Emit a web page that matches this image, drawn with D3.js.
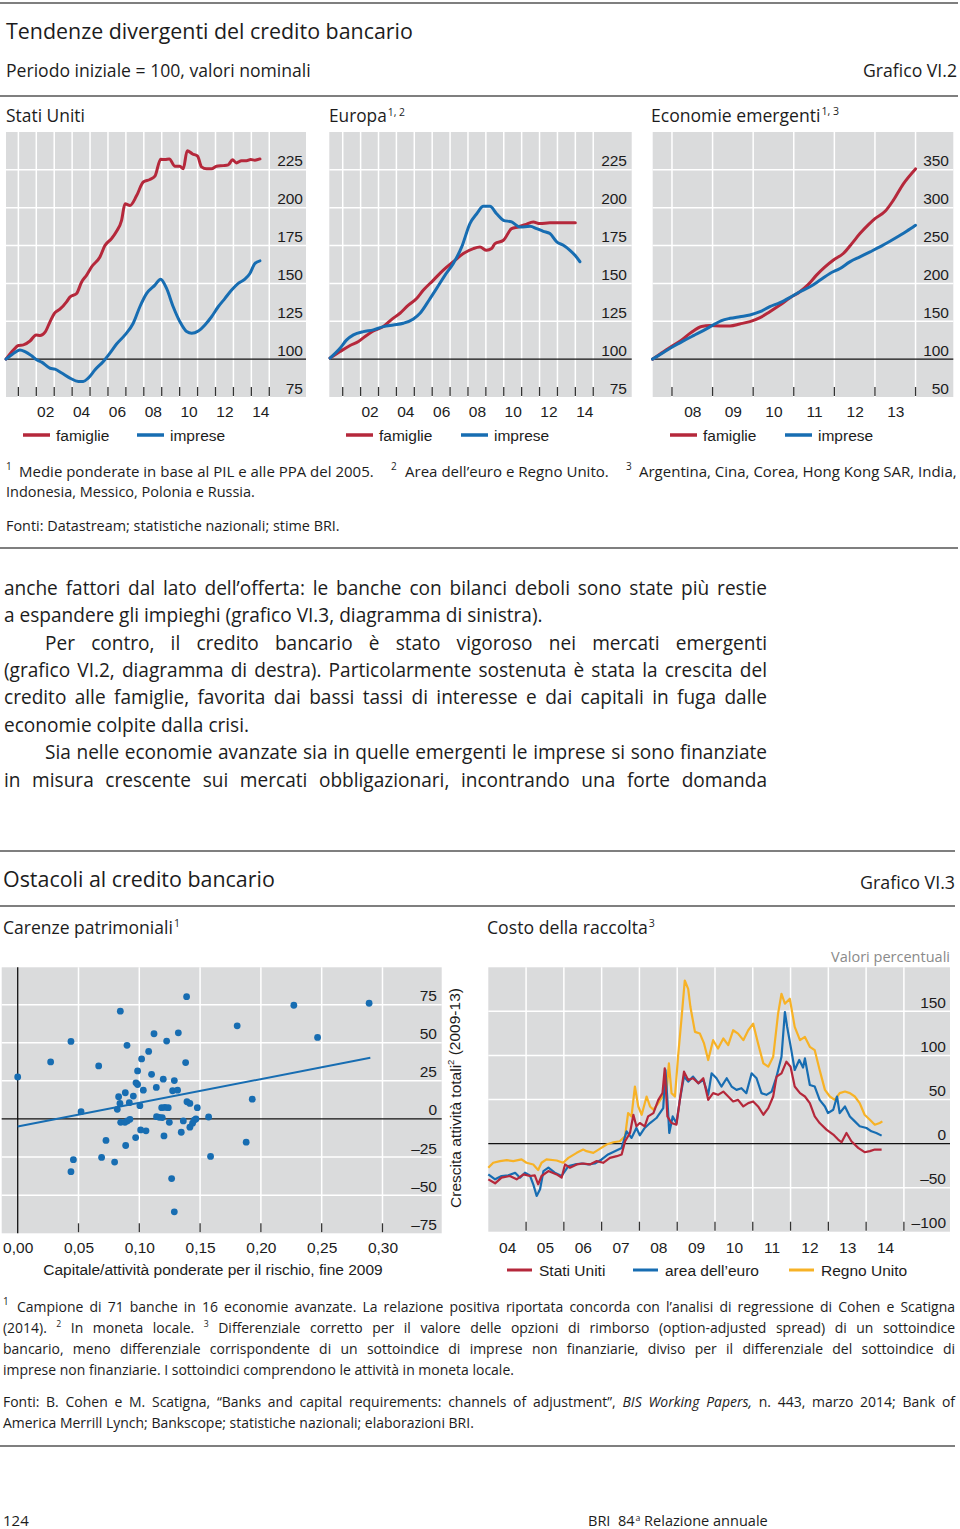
<!DOCTYPE html>
<html><head><meta charset="utf-8">
<script src="https://cdn.jsdelivr.net/npm/d3@7"></script>
<style>body{margin:0;background:#fff}svg{display:block}</style>
</head><body>
<svg id="c" width="960" height="1529"></svg>
<script>
// ---------------- DATA ----------------
const usFamiglie = [[2000.31,100],[2000.72,106],[2001.0,109],[2001.28,109.4],[2001.65,112],[2001.99,116],[2002.21,115.6],[2002.49,117.8],[2002.77,124.8],[2003.01,130.3],[2003.32,133],[2003.70,138],[2003.88,141],[2004.25,143.4],[2004.53,151],[2004.81,155.5],[2005.09,161],[2005.55,167.5],[2005.83,175],[2006.20,179.6],[2006.48,184.4],[2006.76,191.7],[2006.95,202.6],[2007.23,201.5],[2007.60,208],[2007.97,217],[2008.34,218.6],[2008.62,220.8],[2008.94,232],[2009.18,231.8],[2009.42,232.2],[2009.74,227.4],[2010.01,227.4],[2010.20,225.7],[2010.42,237.7],[2010.72,235.5],[2011.0,234],[2011.22,227],[2011.50,225.7],[2011.78,225.7],[2012.06,227.4],[2012.43,227.8],[2012.71,228.3],[2012.95,231.6],[2013.17,229.6],[2013.45,231],[2013.73,231],[2013.96,231.8],[2014.20,231.4],[2014.48,232.2]];
const usImprese = [[2000.31,100],[2000.63,102.9],[2001.09,106.1],[2001.37,105],[2001.74,102.2],[2002.02,99.6],[2002.30,98],[2002.77,94],[2003.04,93.4],[2003.42,90.8],[2003.88,87.5],[2004.35,85.3],[2004.62,85.3],[2004.90,87.5],[2005.28,93],[2005.74,98.5],[2006.11,104],[2006.48,110],[2006.95,116],[2007.41,123.7],[2007.78,134.6],[2008.16,143.4],[2008.62,148.9],[2008.94,152.8],[2009.27,146.7],[2009.64,134.6],[2010.01,124.8],[2010.39,118.2],[2010.67,117.1],[2011.04,118.6],[2011.41,122.6],[2011.78,128],[2012.15,134.6],[2012.52,140],[2012.90,145.6],[2013.27,150],[2013.64,152.8],[2013.92,156.6],[2014.20,163.2],[2014.48,164.9]];
const euFamiglie = [[2000.29,100.7],[2000.85,105],[2001.41,109],[2001.88,111.6],[2002.25,115],[2002.71,118.6],[2003.27,121.5],[2003.74,126.3],[2004.20,130.3],[2004.67,135.7],[2005.13,140],[2005.51,145.6],[2006.07,152.2],[2006.62,158.8],[2007.18,164.3],[2007.74,169.7],[2008.30,173],[2008.67,174],[2009.04,171.9],[2009.32,173],[2009.51,176.3],[2009.98,178.5],[2010.44,186.2],[2010.81,187.3],[2011.19,188.8],[2011.65,190.6],[2012.02,189.5],[2012.58,190.1],[2013.14,190.1],[2014.0,190.1]];
const euImprese = [[2000.29,100.7],[2000.85,107.2],[2001.22,112.7],[2001.60,116],[2002.15,118.2],[2002.71,119.3],[2003.27,121.5],[2003.83,122.6],[2004.39,123.7],[2004.95,126.5],[2005.32,130.3],[2005.88,140],[2006.25,146.7],[2006.72,155.5],[2007.18,163.2],[2007.65,174.1],[2008.11,189.5],[2008.49,196],[2008.86,200.9],[2009.23,200.9],[2009.60,196],[2009.98,191.7],[2010.44,190.6],[2010.91,187.3],[2011.47,187.7],[2011.84,186.2],[2012.21,184.4],[2012.58,182.9],[2012.96,177.4],[2013.33,175.2],[2013.70,171.9],[2013.98,168.6],[2014.26,164.3]];
const emFamiglie = [[2007.52,100],[2007.70,106.6],[2007.95,115.4],[2008.24,125.4],[2008.48,135.5],[2008.73,143],[2008.94,144.3],[2009.18,143.9],[2009.43,143.9],[2009.67,146.5],[2009.92,149.6],[2010.17,154.8],[2010.41,162.7],[2010.66,171.5],[2010.91,181.1],[2011.15,189],[2011.36,198.7],[2011.56,211],[2011.77,221.9],[2011.97,230.7],[2012.22,239.5],[2012.43,252.6],[2012.63,265.8],[2012.84,277.6],[2013.00,285.5],[2013.25,295.2],[2013.45,309.6],[2013.70,331.6],[2014.0,351.3]];
const emImprese = [[2007.52,100],[2007.79,108.8],[2008.03,116.7],[2008.28,124.1],[2008.53,131.1],[2008.77,137.7],[2009.02,145.2],[2009.22,150.9],[2009.43,153.9],[2009.67,156.1],[2009.92,158.3],[2010.17,162.7],[2010.41,169.3],[2010.66,174.6],[2010.91,181.6],[2011.15,189],[2011.40,195.6],[2011.65,204.4],[2011.89,213.2],[2012.14,219.7],[2012.38,228.5],[2012.63,235.1],[2012.88,241.7],[2013.12,248.2],[2013.37,255.7],[2013.62,263.6],[2013.78,268.9],[2014.0,276.8]];

const topYTicks = [75,100,125,150,175,200,225];
const emYTicks = [50,100,150,200,250,300,350];
const topXLabels = ["02","04","06","08","10","12","14"];
const emXLabels = ["08","09","10","11","12","13"];

const scatterCapital = [0.0,0.0271,0.0438,0.0521,0.0438,0.0458,0.0666,0.069,0.0726,0.0797,0.0844,0.0899,0.0885,0.083,0.0841,0.0819,0.0918,0.0951,0.0847,0.0882,0.0901,0.0923,0.0888,0.097,0.0973,0.0986,0.0986,0.1019,0.1033,0.1005,0.1011,0.1055,0.1077,0.1101,0.1121,0.114,0.1142,0.1164,0.1189,0.1197,0.1184,0.1211,0.1238,0.1225,0.1203,0.1247,0.1266,0.1288,0.1274,0.1315,0.1321,0.1288,0.1345,0.1362,0.1389,0.1381,0.1392,0.1416,0.1416,0.1438,0.1466,0.1477,0.157,0.1586,0.1805,0.1879,0.1929,0.2271,0.2466,0.289,0.1452];
const scatterGrowth = [27.6,37.4,50.9,4.8,-34.6,-26.7,34.8,-25.2,-14.1,-28.3,70.7,48.3,17.2,14.6,10.2,6.3,10.7,15,-2.2,-2.2,-1.3,-0.2,-17.4,-12.2,23.7,22.6,31.5,39.4,18.9,8.7,-7.2,-7.8,44.3,29.3,55.9,20.7,1.5,1.1,0.9,26.1,7.4,7.6,7.4,51.1,-11.1,-2.2,-39.1,25.2,18.5,18.9,56.5,-60.9,-8.7,-1.3,80.2,37,11.3,10.2,-5.4,-2.8,0,7.4,1.3,-24.6,61.1,-15.2,13,74.6,53.5,75.9,-0.7];
const regressionLine = [[0.0,-5.0],[0.29,40.2]];
const scatterXTicks = [0.00,0.05,0.10,0.15,0.20,0.25,0.30];
const scatterXLabels = ["0,00","0,05","0,10","0,15","0,20","0,25","0,30"];
const scatterYTicks = [-75,-50,-25,0,25,50,75];

const costUS = [[2004.00,-40.6],[2004.18,-45.1],[2004.35,-38.7],[2004.57,-36.8],[2004.75,-40.6],[2004.93,-35],[2005.10,-36.8],[2005.23,-36.1],[2005.32,-46.2],[2005.41,-36.8],[2005.59,-31.2],[2005.81,-35],[2005.94,-38.7],[2006.03,-23.7],[2006.16,-27.4],[2006.34,-23.7],[2006.51,-22.6],[2006.69,-23.7],[2006.87,-19.9],[2007.04,-21.8],[2007.22,-16.2],[2007.40,-14.3],[2007.53,-12.4],[2007.62,2.6],[2007.75,12],[2007.84,32.7],[2007.92,19.6],[2008.01,23.3],[2008.14,19.6],[2008.23,30.8],[2008.37,34.6],[2008.50,49.6],[2008.61,57.2],[2008.67,85.4],[2008.74,30.8],[2008.85,23.3],[2008.98,21.4],[2009.07,49.6],[2009.18,81.6],[2009.29,72.2],[2009.42,74.1],[2009.56,68.4],[2009.69,74.1],[2009.82,49.6],[2009.95,57.2],[2010.08,55.3],[2010.22,59],[2010.35,53.4],[2010.48,47.8],[2010.61,49.6],[2010.75,42.1],[2010.88,45.9],[2011.01,47.8],[2011.14,42.1],[2011.28,32.7],[2011.41,40.2],[2011.54,53.4],[2011.63,76],[2011.76,79.7],[2011.89,92.9],[2012.00,87.2],[2012.11,64.7],[2012.25,57.2],[2012.38,53.4],[2012.51,45.9],[2012.64,30.8],[2012.77,23.3],[2012.95,15.8],[2013.13,10.2],[2013.26,4.5],[2013.35,1.5],[2013.48,12],[2013.61,2.6],[2013.79,-4.9],[2013.96,-9.8],[2014.10,-8.6],[2014.23,-6.8],[2014.41,-6.8]];
const costEA = [[2004.00,-35],[2004.18,-40.6],[2004.35,-36.8],[2004.53,-36.1],[2004.71,-33.1],[2004.84,-38.7],[2004.97,-33.1],[2005.10,-36.1],[2005.19,-46.2],[2005.28,-59.4],[2005.37,-51.9],[2005.46,-31.2],[2005.59,-27.4],[2005.76,-33.1],[2005.94,-36.8],[2006.12,-25.6],[2006.29,-23.7],[2006.47,-22.6],[2006.65,-23.7],[2006.82,-22.6],[2007.00,-18],[2007.17,-12.4],[2007.35,-8.6],[2007.53,-4.9],[2007.66,13.9],[2007.79,6.4],[2007.92,17.7],[2008.01,9.4],[2008.14,17.7],[2008.28,23.3],[2008.45,29],[2008.63,40.2],[2008.69,83.5],[2008.74,49.6],[2008.79,12],[2008.88,30.8],[2008.98,23.3],[2009.07,49.6],[2009.18,76],[2009.29,70.3],[2009.42,76],[2009.56,68.4],[2009.69,72.2],[2009.82,55.3],[2009.91,79.7],[2010.04,74.1],[2010.17,64.7],[2010.31,74.1],[2010.44,64.7],[2010.57,60.9],[2010.70,62.8],[2010.83,57.2],[2010.97,79.7],[2011.10,74.1],[2011.23,57.2],[2011.36,55.3],[2011.50,59],[2011.63,76],[2011.76,98.5],[2011.85,149.3],[2011.91,132.4],[2012.02,106],[2012.11,83.5],[2012.23,94.8],[2012.33,86.3],[2012.38,96.6],[2012.51,66.5],[2012.64,64.7],[2012.77,49.6],[2012.91,42.1],[2012.99,34.6],[2013.13,38.4],[2013.23,53.4],[2013.30,34.6],[2013.44,42.1],[2013.57,30.8],[2013.70,25.2],[2013.83,19.6],[2014.01,17.7],[2014.14,13.9],[2014.27,12],[2014.41,9]];
const costUK = [[2004.00,-27.4],[2004.13,-21.8],[2004.31,-19.9],[2004.49,-18.8],[2004.66,-19.9],[2004.88,-18],[2005.01,-21.8],[2005.19,-23.7],[2005.32,-30],[2005.41,-21.8],[2005.54,-18],[2005.81,-19.2],[2005.98,-21.8],[2006.12,-16.2],[2006.34,-10.5],[2006.51,-6.8],[2006.60,-8.6],[2006.78,-10.5],[2006.95,-6],[2007.13,-1.1],[2007.31,1.5],[2007.48,2.6],[2007.62,8.3],[2007.70,34.6],[2007.79,30.8],[2007.88,64.7],[2007.97,42.1],[2008.06,32.7],[2008.19,53.4],[2008.28,42.1],[2008.37,38.4],[2008.50,45.9],[2008.61,53.4],[2008.72,60.9],[2008.78,91],[2008.85,57.2],[2008.94,53.4],[2009.03,102.3],[2009.11,139.9],[2009.20,185],[2009.29,175.6],[2009.35,154.9],[2009.47,126.7],[2009.60,124.8],[2009.71,113.6],[2009.82,94.8],[2009.95,117.3],[2010.08,107.9],[2010.22,119.2],[2010.35,111.7],[2010.48,128.6],[2010.61,124.8],[2010.75,117.3],[2010.88,128.6],[2011.01,136.1],[2011.14,113.6],[2011.28,91],[2011.41,87.2],[2011.54,98.5],[2011.67,147.4],[2011.76,170],[2011.85,158.7],[2011.98,164.3],[2012.11,132.4],[2012.25,117.3],[2012.38,121],[2012.51,109.8],[2012.64,106],[2012.77,83.5],[2012.91,60.9],[2013.04,53.4],[2013.17,49.6],[2013.30,57.2],[2013.44,59],[2013.57,57.2],[2013.70,53.4],[2013.83,45.9],[2013.96,32.7],[2014.10,27.1],[2014.23,21.4],[2014.36,23.3],[2014.43,25.2]];
const costYTicks = [-100,-50,0,50,100,150];
const costXLabels = ["04","05","06","07","08","09","10","11","12","13","14"];

// ---------------- STYLE ----------------
const F_TEXT = "'Open Sans','Noto Sans',sans-serif";
const F_AXIS = "'Liberation Sans',Arial,sans-serif";
const RED = '#b5283b', BLUE = '#176db2', YEL = '#f7b226', BG = '#dadbdc', INK = '#1c1c1c', RULE = '#555';
const AX_FS = 15.5;
const svg = d3.select('#c');

const dash = v => String(v).replace('-', '\u2013');

function measure(str, fs, ff) {
  const t = svg.append('text').attr('font-family', ff).attr('font-size', fs).text(str);
  const w = t.node().getComputedTextLength(); t.remove(); return w;
}
function fit(t, w) {
  const cur = t.node().getComputedTextLength();
  t.attr('font-size', (+t.attr('font-size')) * w / cur);
  return t;
}
function T(x, y, str, o = {}) {
  const t = svg.append('text').attr('x', x).attr('y', y)
    .attr('font-family', o.ff || F_TEXT).attr('font-size', o.fs || 16)
    .attr('fill', o.fill || INK).attr('text-anchor', o.anchor || 'start');
  t.append('tspan').text(str);
  if (o.sup) t.append('tspan').attr('font-size', '0.6em').attr('dy', '-0.62em').attr('dx', '0.1em').text(o.sup);
  if (o.w) fit(t, o.w);
  return t;
}
function rule(y, x1, x2) {
  svg.append('line').attr('x1', x1).attr('x2', x2).attr('y1', y).attr('y2', y).attr('stroke', RULE).attr('stroke-width', 1.3);
}
// justified line: tokens separated by spaces, '^' prefix = superscript, '~' prefix = italic
function J(x, y, w, str, fs, just = true) {
  const t = svg.append('text').attr('font-family', F_TEXT).attr('font-size', fs).attr('fill', INK);
  const words = str.split(' ');
  const spans = words.map(wd => {
    const s = t.append('tspan');
    if (wd[0] === '^') s.text(wd.slice(1)).attr('font-size', fs * 0.62).attr('y', y - fs * 0.4);
    else if (wd[0] === '~') s.text(wd.slice(1)).attr('font-style', 'italic').attr('y', y);
    else s.text(wd).attr('y', y);
    return s;
  });
  const ws = spans.map(s => s.node().getComputedTextLength());
  const gap = just ? (w - d3.sum(ws)) / (words.length - 1) : fs * 0.26;
  let cx = x;
  spans.forEach((s, i) => { s.attr('x', cx); cx += ws[i] + gap; });
}
function justSize(lines) {
  let fs = Infinity;
  lines.forEach(([str, w]) => { fs = Math.min(fs, 18 * (w * 0.99) / measure(str, 18, F_TEXT)); });
  return fs;
}

// ---------------- TOP FIGURE ----------------
rule(3, 0, 958);
T(6, 39, 'Tendenze divergenti del credito bancario', {fs: 21, w: 407});
T(6, 77, 'Periodo iniziale = 100, valori nominali', {fs: 18, w: 305});
T(957, 77, 'Grafico VI.2', {fs: 18, anchor: 'end', w: 94});
rule(96, 0, 958);
T(6, 122, 'Stati Uniti', {fs: 18, w: 79});
T(329, 122, 'Europa', {fs: 18, sup: '1, 2', w: 75});
T(651, 122, 'Economie emergenti', {fs: 18, sup: '1, 3', w: 187});

function topPanel(p) {
  const g = svg.append('g');
  const x = d3.scaleLinear().domain(p.xd).range([p.x0, p.x1]);
  const y = d3.scaleLinear().domain(p.yd).range([p.y1, p.y0]);
  g.append('rect').attr('x', p.x0).attr('y', p.y0).attr('width', p.x1 - p.x0).attr('height', p.y1 - p.y0).attr('fill', BG);
  g.selectAll(null).data(p.yTicks.filter(v => v !== p.yd[0] && v !== 100)).join('line')
    .attr('x1', p.x0).attr('x2', p.x1).attr('y1', d => y(d)).attr('y2', d => y(d)).attr('stroke', '#fff').attr('stroke-width', 1.5);
  g.selectAll(null).data(p.years).join('line')
    .attr('x1', d => x(d)).attr('x2', d => x(d)).attr('y1', p.y0).attr('y2', p.y1).attr('stroke', '#fff').attr('stroke-width', 1.5);
  g.selectAll(null).data(p.years).join('line')
    .attr('x1', d => x(d)).attr('x2', d => x(d)).attr('y1', p.y1 - 10).attr('y2', p.y1 - 1).attr('stroke', '#333').attr('stroke-width', 1.3);
  g.append('line').attr('x1', p.x0).attr('x2', p.x1).attr('y1', y(100)).attr('y2', y(100)).attr('stroke', '#111').attr('stroke-width', 1.3);
  const line = d3.line().x(d => x(d[0])).y(d => y(d[1])).curve(d3.curveMonotoneX);
  p.series.forEach((s, i) => g.append('path').attr('d', line(s)).attr('fill', 'none')
    .attr('stroke', i === 0 ? RED : BLUE).attr('stroke-width', 3).attr('stroke-linejoin', 'round').attr('stroke-linecap', 'round'));
  const ay = g.append('g').attr('transform', `translate(${p.labelX},0)`)
    .call(d3.axisRight(y).tickValues(p.yTicks).tickSize(0).tickFormat(dash));
  ay.select('.domain').remove();
  ay.attr('font-family', F_AXIS).attr('font-size', AX_FS);
  ay.selectAll('text').attr('x', 0).attr('dy', null).attr('y', -4).attr('text-anchor', 'end').attr('fill', INK);
  const lx = p.xLabels.map(l => 2000 + (+l) + 0.5);
  const ax = g.append('g').attr('transform', `translate(0,${p.y1 + 19.5})`)
    .call(d3.axisBottom(x).tickValues(lx).tickSize(0).tickFormat((d, i) => p.xLabels[i]));
  ax.select('.domain').remove();
  ax.attr('font-family', F_AXIS).attr('font-size', AX_FS);
  ax.selectAll('text').attr('y', 0).attr('dy', null).attr('fill', INK);
  const ly = 435;
  [[p.leg[0], RED, 'famiglie'], [p.leg[1], BLUE, 'imprese']].forEach(([lx0, c, lab]) => {
    g.append('line').attr('x1', lx0).attr('x2', lx0 + 27).attr('y1', ly).attr('y2', ly).attr('stroke', c).attr('stroke-width', 3.5);
    g.append('text').attr('x', lx0 + 33).attr('y', ly + 5.5).attr('font-family', F_AXIS).attr('font-size', AX_FS).attr('fill', INK).text(lab);
  });
}
topPanel({x0: 6, x1: 306, y0: 132, y1: 397, xd: [2000.31, 2017.05], yd: [75, 250], yTicks: topYTicks,
  years: d3.range(2001, 2016), xLabels: topXLabels, series: [usFamiglie, usImprese], labelX: 303, leg: [23, 137]});
topPanel({x0: 329.3, x1: 631.7, y0: 132, y1: 397, xd: [2000.25, 2017.15], yd: [75, 250], yTicks: topYTicks,
  years: d3.range(2001, 2016), xLabels: topXLabels, series: [euFamiglie, euImprese], labelX: 627, leg: [346, 461]});
topPanel({x0: 652.7, x1: 953.3, y0: 132, y1: 397, xd: [2007.525, 2014.93], yd: [50, 400], yTicks: emYTicks,
  years: d3.range(2008, 2015), xLabels: emXLabels, series: [emFamiglie, emImprese], labelX: 949, leg: [670, 785]});

// top footnotes
const supFs = 10;
function supAt(x, y, s) { svg.append('text').attr('x', x).attr('y', y).attr('font-family', F_TEXT).attr('font-size', supFs).attr('fill', INK).text(s); }
supAt(6, 470, '1'); T(19, 477, 'Medie ponderate in base al PIL e alle PPA del 2005.', {fs: 14, w: 355});
supAt(391, 470, '2'); T(405, 477, 'Area dell\u2019euro e Regno Unito.', {fs: 14, w: 204});
supAt(626, 470, '3'); T(639, 477, 'Argentina, Cina, Corea, Hong Kong SAR, India,', {fs: 14, w: 318});
T(6, 497, 'Indonesia, Messico, Polonia e Russia.', {fs: 14, w: 249});
T(6, 531, 'Fonti: Datastream; statistiche nazionali; stime BRI.', {fs: 14, w: 334});
rule(548, 0, 958);

// ---------------- BODY TEXT ----------------
const bodyLines = [
  [4, 595, 763, 'anche fattori dal lato dell\u2019offerta: le banche con bilanci deboli sono state pi\u00f9 restie', true],
  [4, 622, 763, 'a espandere gli impieghi (grafico VI.3, diagramma di sinistra).', false],
  [45, 650, 722, 'Per contro, il credito bancario \u00e8 stato vigoroso nei mercati emergenti', true],
  [4, 677, 763, '(grafico VI.2, diagramma di destra). Particolarmente sostenuta \u00e8 stata la crescita del', true],
  [4, 704, 763, 'credito alle famiglie, favorita dai bassi tassi di interesse e dai capitali in fuga dalle', true],
  [4, 732, 763, 'economie colpite dalla crisi.', false],
  [45, 759, 722, 'Sia nelle economie avanzate sia in quelle emergenti le imprese si sono finanziate', true],
  [4, 787, 763, 'in misura crescente sui mercati obbligazionari, incontrando una forte domanda', true]
];
const bodyFs = Math.min(18 * 562 / measure(bodyLines[1][3], 18, F_TEXT),
  justSize(bodyLines.filter(l => l[4]).map(l => [l[3], l[2]])));
bodyLines.forEach(([x, y, w, s, j]) => J(x, y, w, s, bodyFs, j));

// ---------------- BOTTOM FIGURE ----------------
rule(851, 0, 955);
T(3, 887, 'Ostacoli al credito bancario', {fs: 22, w: 272});
T(955, 889, 'Grafico VI.3', {fs: 18, anchor: 'end', w: 95});
rule(906, 0, 955);
T(3, 934, 'Carenze patrimoniali', {fs: 18, sup: '1', w: 176});
T(487, 934, 'Costo della raccolta', {fs: 18, sup: '3', w: 167});
T(950, 962, 'Valori percentuali', {fs: 15, anchor: 'end', w: 119, fill: '#8a8a8a'});

// scatter
(function () {
  const X0 = 1.7, X1 = 441.7, Y0 = 967.3, Y1 = 1233.3;
  const x = d3.scaleLinear().domain([-0.01316, 0.3487]).range([X0, X1]);
  const y = d3.scaleLinear().domain([-75, 99.5]).range([Y1, Y0]);
  const g = svg.append('g');
  g.append('rect').attr('x', X0).attr('y', Y0).attr('width', X1 - X0).attr('height', Y1 - Y0).attr('fill', BG);
  const vt = scatterXTicks.filter(v => v > 0);
  g.selectAll(null).data(vt).join('line').attr('x1', d => x(d)).attr('x2', d => x(d)).attr('y1', Y0).attr('y2', Y1).attr('stroke', '#fff').attr('stroke-width', 1.5);
  g.selectAll(null).data(scatterYTicks.filter(v => v !== 0 && v !== -75)).join('line').attr('x1', X0).attr('x2', X1).attr('y1', d => y(d)).attr('y2', d => y(d)).attr('stroke', '#fff').attr('stroke-width', 1.5);
  g.selectAll(null).data(vt).join('line').attr('x1', d => x(d)).attr('x2', d => x(d)).attr('y1', Y1 - 10).attr('y2', Y1 - 1).attr('stroke', '#333').attr('stroke-width', 1.3);
  g.append('line').attr('x1', X0).attr('x2', X1).attr('y1', y(0)).attr('y2', y(0)).attr('stroke', '#111').attr('stroke-width', 1.3);
  g.append('line').attr('x1', x(0)).attr('x2', x(0)).attr('y1', Y0).attr('y2', Y1).attr('stroke', '#111').attr('stroke-width', 1.3);
  g.selectAll(null).data(scatterCapital.map((c, i) => [c, scatterGrowth[i]])).join('circle')
    .attr('cx', d => x(d[0])).attr('cy', d => y(d[1])).attr('r', 3.4).attr('fill', BLUE);
  g.append('path').attr('d', d3.line().x(d => x(d[0])).y(d => y(d[1]))(regressionLine)).attr('stroke', BLUE).attr('stroke-width', 2).attr('fill', 'none');
  const ay = g.append('g').attr('transform', `translate(437,0)`).call(d3.axisRight(y).tickValues(scatterYTicks).tickSize(0).tickFormat(dash));
  ay.select('.domain').remove(); ay.attr('font-family', F_AXIS).attr('font-size', AX_FS);
  ay.selectAll('text').attr('x', 0).attr('dy', null).attr('y', -4).attr('text-anchor', 'end').attr('fill', INK);
  const ax = g.append('g').attr('transform', `translate(0,1252.5)`).call(d3.axisBottom(x).tickValues(scatterXTicks).tickSize(0).tickFormat((d, i) => scatterXLabels[i]));
  ax.select('.domain').remove(); ax.attr('font-family', F_AXIS).attr('font-size', AX_FS);
  ax.selectAll('text').attr('y', 0).attr('dy', null).attr('fill', INK);
  g.append('text').attr('x', 213).attr('y', 1275).attr('text-anchor', 'middle').attr('font-family', F_AXIS).attr('font-size', AX_FS).attr('fill', INK)
    .text('Capitale/attivit\u00e0 ponderate per il rischio, fine 2009');
  const yt = g.append('text').attr('transform', 'translate(460.5,1098) rotate(-90)').attr('text-anchor', 'middle')
    .attr('font-family', F_AXIS).attr('font-size', AX_FS).attr('fill', INK);
  yt.append('tspan').text('Crescita attivit\u00e0 totali');
  yt.append('tspan').attr('font-size', '0.62em').attr('dy', '-0.7em').text('2');
  yt.append('tspan').attr('dy', '0.43em').text(' (2009-13)');
})();

// cost of funding
(function () {
  const X0 = 488.3, X1 = 950, Y0 = 967.3, Y1 = 1231.7;
  const x = d3.scaleLinear().domain([2004.0, 2016.22]).range([X0, X1]);
  const y = d3.scaleLinear().domain([-100, 200]).range([Y1, Y0]);
  const g = svg.append('g');
  g.append('rect').attr('x', X0).attr('y', Y0).attr('width', X1 - X0).attr('height', Y1 - Y0).attr('fill', BG);
  const yrs = d3.range(2005, 2016);
  g.selectAll(null).data(yrs).join('line').attr('x1', d => x(d)).attr('x2', d => x(d)).attr('y1', Y0).attr('y2', Y1).attr('stroke', '#fff').attr('stroke-width', 1.5);
  g.selectAll(null).data(costYTicks.filter(v => v !== 0 && v !== -100)).join('line').attr('x1', X0).attr('x2', X1).attr('y1', d => y(d)).attr('y2', d => y(d)).attr('stroke', '#fff').attr('stroke-width', 1.5);
  g.selectAll(null).data(yrs).join('line').attr('x1', d => x(d)).attr('x2', d => x(d)).attr('y1', Y1 - 10).attr('y2', Y1 - 1).attr('stroke', '#333').attr('stroke-width', 1.3);
  g.append('line').attr('x1', X0).attr('x2', X1).attr('y1', y(0)).attr('y2', y(0)).attr('stroke', '#111').attr('stroke-width', 1.3);
  const line = d3.line().x(d => x(d[0])).y(d => y(d[1]));
  [[costUK, YEL], [costEA, BLUE], [costUS, RED]].forEach(([s, c]) =>
    g.append('path').attr('d', line(s)).attr('fill', 'none').attr('stroke', c).attr('stroke-width', 2.2).attr('stroke-linejoin', 'round'));
  const ay = g.append('g').attr('transform', `translate(946,0)`).call(d3.axisRight(y).tickValues(costYTicks).tickSize(0).tickFormat(dash));
  ay.select('.domain').remove(); ay.attr('font-family', F_AXIS).attr('font-size', AX_FS);
  ay.selectAll('text').attr('x', 0).attr('dy', null).attr('y', -4).attr('text-anchor', 'end').attr('fill', INK);
  const lx = costXLabels.map(l => 2000 + (+l) + 0.5);
  const ax = g.append('g').attr('transform', `translate(0,1252.5)`).call(d3.axisBottom(x).tickValues(lx).tickSize(0).tickFormat((d, i) => costXLabels[i]));
  ax.select('.domain').remove(); ax.attr('font-family', F_AXIS).attr('font-size', AX_FS);
  ax.selectAll('text').attr('y', 0).attr('dy', null).attr('fill', INK);
  [[507, RED, 'Stati Uniti'], [633, BLUE, 'area dell\u2019euro'], [789, YEL, 'Regno Unito']].forEach(([lx0, c, lab]) => {
    g.append('line').attr('x1', lx0).attr('x2', lx0 + 25).attr('y1', 1270).attr('y2', 1270).attr('stroke', c).attr('stroke-width', 3);
    g.append('text').attr('x', lx0 + 32).attr('y', 1275.5).attr('font-family', F_AXIS).attr('font-size', AX_FS).attr('fill', INK).text(lab);
  });
})();

// bottom footnotes
const footLines = [
  [17, 1312, 938, 'Campione di 71 banche in 16 economie avanzate. La relazione positiva riportata concorda con l\u2019analisi di regressione di Cohen e Scatigna', true],
  [3, 1333, 952, '(2014). ^2 In moneta locale. ^3 Differenziale corretto per il valore delle opzioni di rimborso (option-adjusted spread) di un sottoindice', true],
  [3, 1354, 952, 'bancario, meno differenziale corrispondente di un sottoindice di imprese non finanziarie, diviso per il differenziale del sottoindice di', true],
  [3, 1375, 952, 'imprese non finanziarie. I sottoindici comprendono le attivit\u00e0 in moneta locale.', false],
  [3, 1407, 952, 'Fonti: B. Cohen e M. Scatigna, \u201cBanks and capital requirements: channels of adjustment\u201d, ~BIS ~Working ~Papers, n. 443, marzo 2014; Bank of', true],
  [3, 1428, 952, 'America Merrill Lynch; Bankscope; statistiche nazionali; elaborazioni BRI.', false]
];
const footRef = 14 * 488 / measure(footLines[3][3], 14, F_TEXT);
const footJust = justSize(footLines.filter(l => l[4]).map(l => [l[3].replace(/[\^~]/g, ''), l[2]]));
const footFs = Math.min(footJust, (footRef + footJust) / 2);
supAt(3, 1305, '1');
footLines.forEach(([x, y, w, s, j]) => J(x, y, w, s, footFs, j));
rule(1446, 0, 955);

// page footer
T(3, 1526, '124', {fs: 15});
const ft = T(588, 1526, 'BRI\u00a0\u00a084', {fs: 15, sup: 'a'});
ft.append('tspan').attr('dy', '0.37em').text(' Relazione annuale');
fit(ft, 179);
</script>
</body></html>
